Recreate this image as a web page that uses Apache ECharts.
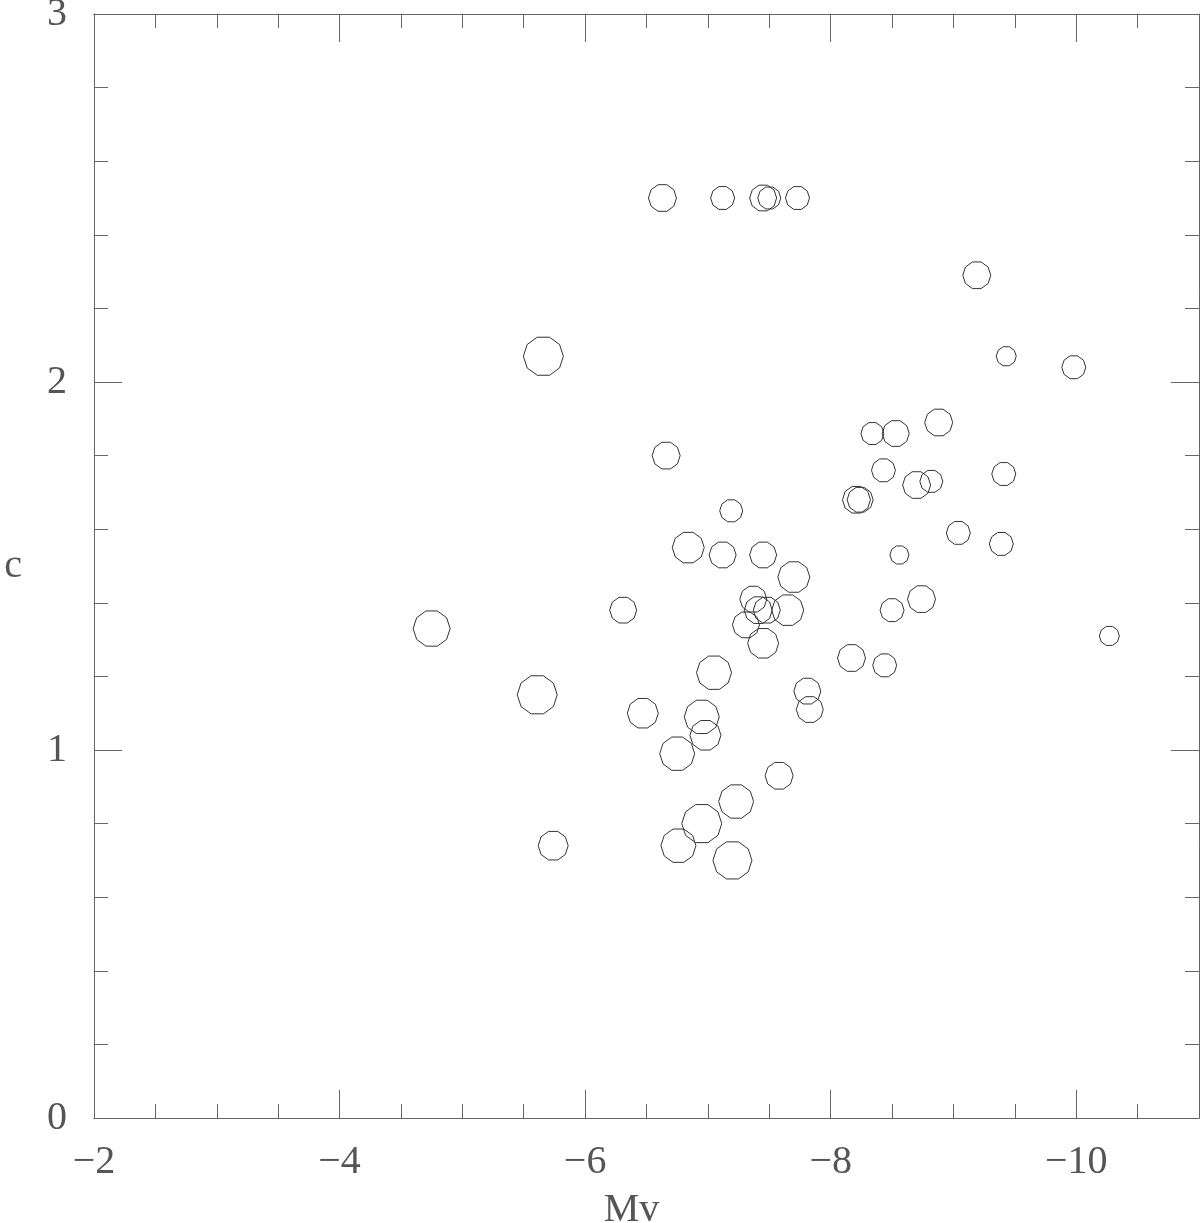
<!DOCTYPE html>
<html>
<head>
<meta charset="utf-8">
<script src="https://cdn.jsdelivr.net/npm/echarts@6/dist/echarts.min.js"></script>
<style>
html,body{margin:0;padding:0;background:#fff;}
#chart{width:1200px;height:1223px;}
</style>
</head>
<body>
<div id="chart"></div>
<script>
// Absolute magnitude Mv
const mv = [
  -6.63, -7.12, -7.45, -7.50, -7.73,
  -9.19, -9.43, -9.98, -5.66,
  -8.88, -8.34, -8.53, -6.66,
  -8.43, -9.41, -8.70, -8.82,
  -8.21, -8.24, -7.19,
  -9.04, -9.39, -6.84, -7.12, -7.45, -8.56,
  -7.70, -8.74, -8.50, -6.31,
  -7.37, -7.41, -7.48, -7.65, -7.31, -7.45,
  -4.75, -10.27, -8.17, -8.44, -7.05,
  -5.61, -7.81, -7.83, -6.47, -6.95, -6.98, -6.75,
  -7.58, -7.23, -6.95, -6.76, -5.74, -7.20
];
// Concentration c
const conc = [
  2.50, 2.50, 2.50, 2.50, 2.50,
  2.29, 2.07, 2.04, 2.07,
  1.89, 1.86, 1.86, 1.80,
  1.76, 1.75, 1.72, 1.73,
  1.68, 1.68, 1.65,
  1.59, 1.56, 1.55, 1.53, 1.53, 1.53,
  1.47, 1.41, 1.38, 1.38,
  1.41, 1.38, 1.38, 1.38, 1.34, 1.29,
  1.33, 1.31, 1.25, 1.23, 1.21,
  1.15, 1.16, 1.11, 1.10, 1.09, 1.04, 0.99,
  0.93, 0.86, 0.80, 0.74, 0.74, 0.70
];
// third variable shown by symbol size
const dotSize = [
  28, 24, 27, 23, 24,
  28, 20, 24, 40,
  28, 23, 27, 28,
  24, 24, 28, 23,
  28, 26, 23,
  24, 24, 32, 27, 27, 19,
  32, 28, 24, 27,
  27, 28, 27, 32, 27, 31,
  37, 20, 28, 24, 35,
  40, 27, 27, 31, 35, 31, 35,
  28, 35, 40, 35, 30, 39
];
const xMajorTicks = [-10, -8, -6, -4, -2];

// decagon outline symbol
let p = '';
for (let k = 0; k < 10; k++) {
  const a = k * Math.PI / 5;
  p += (k === 0 ? 'M' : 'L') + (Math.cos(a) * 100).toFixed(3) + ',' + (-Math.sin(a) * 100).toFixed(3);
}
p += 'Z';
const decagon = 'path://' + p;

const data = mv.map((x, i) => [x, conc[i], dotSize[i]]);

const LINE = '#666';
const TXT = '#555';
const FONT = '"Liberation Serif", "DejaVu Serif", serif';
const fmt = v => (v < 0 ? '\u2212' + Math.abs(v) : String(v));

const xBase = {
  type: 'value', min: -11, max: -2, inverse: true,
  splitLine: { show: false },
  axisLine: { show: true, onZero: false, lineStyle: { color: LINE, width: 1 } }
};
const yBase = {
  type: 'value', min: 0, max: 3, interval: 1,
  splitLine: { show: false },
  axisLine: { show: true, onZero: false, lineStyle: { color: LINE, width: 1 } },
  axisTick: { show: true, inside: true, length: 28, lineStyle: { color: LINE } },
  minorTick: { show: true, splitNumber: 5, length: 14, lineStyle: { color: LINE } }
};

const option = {
  animation: false,
  backgroundColor: '#fff',
  grid: { left: 94, right: 1, top: 14, bottom: 105, containLabel: false, outerBoundsMode: 'none' },
  xAxis: [
    Object.assign({}, xBase, {
      position: 'bottom',
      axisTick: { show: true, inside: true, length: 28, customValues: xMajorTicks, lineStyle: { color: LINE } },
      axisLabel: { show: true, customValues: xMajorTicks, formatter: fmt, margin: 24,
        color: TXT, fontFamily: FONT, fontSize: 40 },
      name: 'Mv', nameLocation: 'middle', nameGap: 72,
      nameTextStyle: { color: TXT, fontFamily: FONT, fontSize: 40, padding: [0, 30, 0, 0] }
    }),
    Object.assign({}, xBase, {
      position: 'bottom', interval: 0.5,
      axisTick: { show: true, inside: true, length: 14, lineStyle: { color: LINE } },
      axisLabel: { show: false }
    }),
    Object.assign({}, xBase, {
      position: 'top',
      axisTick: { show: true, inside: true, length: 28, customValues: xMajorTicks, lineStyle: { color: LINE } },
      axisLabel: { show: false }
    }),
    Object.assign({}, xBase, {
      position: 'top', interval: 0.5,
      axisTick: { show: true, inside: true, length: 14, lineStyle: { color: LINE } },
      axisLabel: { show: false }
    })
  ],
  yAxis: [
    Object.assign({}, yBase, {
      position: 'left',
      axisLabel: { show: true, formatter: fmt, margin: 27, color: TXT, fontFamily: FONT, fontSize: 40 },
      name: 'c', nameLocation: 'middle', nameGap: 72, nameRotate: 0,
      nameTextStyle: { color: TXT, fontFamily: FONT, fontSize: 40 }
    }),
    Object.assign({}, yBase, {
      position: 'right',
      axisLabel: { show: false }
    })
  ],
  series: [{
    type: 'scatter',
    xAxisIndex: 0, yAxisIndex: 0,
    data: data,
    symbol: decagon,
    symbolKeepAspect: true,
    symbolSize: v => v[2],
    itemStyle: { color: 'rgba(0,0,0,0)', borderColor: '#333', borderWidth: 1, opacity: 1 },
    emphasis: { disabled: true },
    silent: true
  }]
};

const chart = echarts.init(document.getElementById('chart'), null, { renderer: 'canvas' });
chart.setOption(option);
</script>
</body>
</html>
